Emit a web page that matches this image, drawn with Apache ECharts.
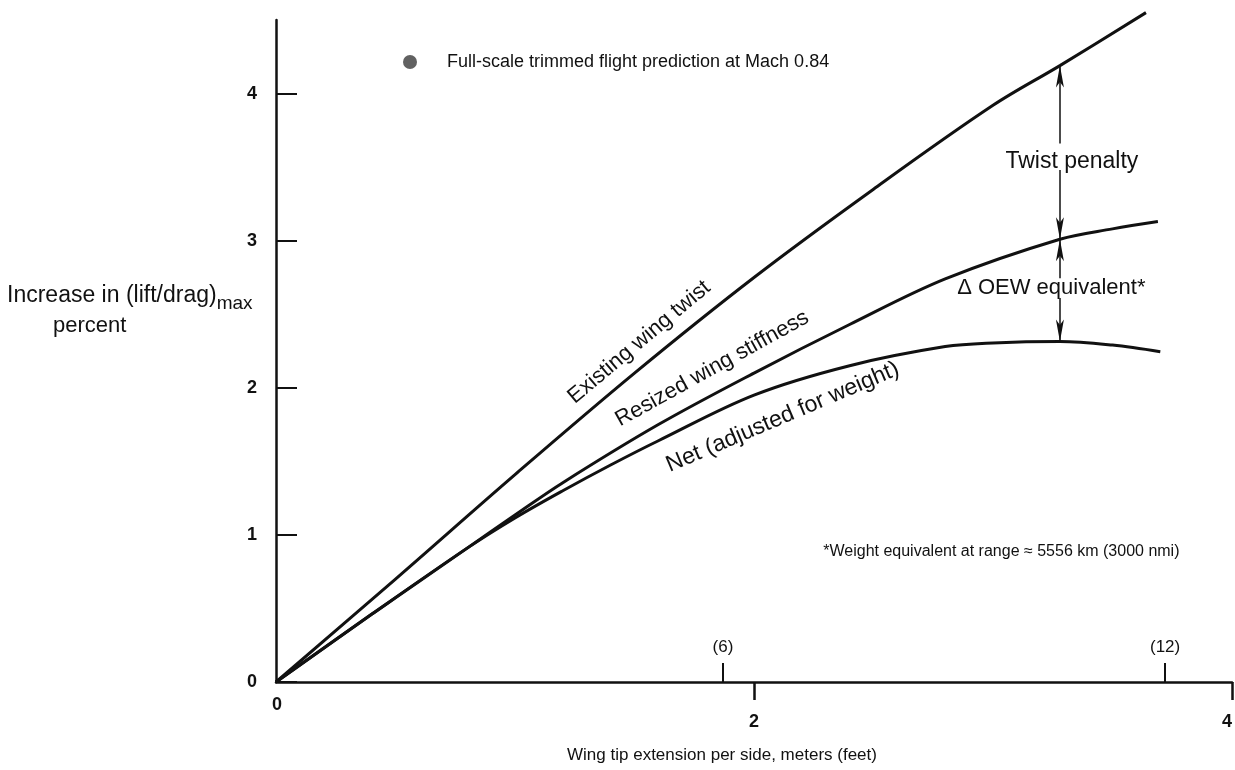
<!DOCTYPE html>
<html>
<head>
<meta charset="utf-8">
<script src="https://cdn.jsdelivr.net/npm/echarts@6/dist/echarts.min.js"></script>
<style>
  html, body { margin: 0; padding: 0; background: #fff; }
  #chart { width: 1235px; height: 770px; }
</style>
</head>
<body>
<div id="chart"></div>
<script>
// Wing tip extension per side (m) and increase in (L/D)max (%) for each configuration
const twistX   = [0, 0.5, 1.0, 1.5, 2.0, 2.5, 3.0, 3.28, 3.64];
const twistY   = [0, 0.70, 1.41, 2.10, 2.75, 3.35, 3.92, 4.19, 4.55];

const resizedX = [0, 0.4, 0.8, 1.0, 1.2, 1.6, 2.0, 2.4, 2.8, 3.28, 3.5, 3.69];
const resizedY = [0, 0.46, 0.91, 1.135, 1.355, 1.75, 2.10, 2.43, 2.74, 3.01, 3.08, 3.13];

const netX     = [0, 0.4, 0.8, 1.0, 1.2, 1.4, 1.6, 2.0, 2.4, 2.8, 3.0, 3.28, 3.5, 3.7];
const netY     = [0, 0.46, 0.91, 1.115, 1.30, 1.475, 1.64, 1.95, 2.15, 2.28, 2.305, 2.315, 2.29, 2.245];

// Axis ticks
const yTicks = [0, 1, 2, 3, 4];
const meterTicks = [2, 4];
const feetTickPos = [1.87, 3.72];          // metres along the axis
const feetTickLabels = ['(6)', '(12)'];

// Where the penalty arrows are drawn (m), and the breaks left for their captions
const arrowX = 3.28;
const twistGap = [3.66, 3.48];
const oewGap = [2.745, 2.61];

const seriesNames = ['Existing wing twist', 'Resized wing stiffness', 'Net (adjusted for weight)'];
const legendName = 'Full-scale trimmed flight prediction at Mach 0.84';

const FONT = '"Liberation Sans", Arial, Helvetica, sans-serif';
const INK = '#111';

const pairs = (xs, ys) => xs.map((x, i) => [x, ys[i]]);
const valueAt = (xs, ys, x) => ys[xs.indexOf(x)];

const arrowTop = valueAt(twistX, twistY, arrowX);
const arrowMid = valueAt(resizedX, resizedY, arrowX);
const arrowLow = valueAt(netX, netY, arrowX);

const chart = echarts.init(document.getElementById('chart'), null, { renderer: 'canvas' });

// an arrow from a curve to the edge of a caption gap, head on the curve end
const arrowSeg = (fromCurve, toGap) => [
  { coord: [arrowX, fromCurve], symbol: 'arrow' },
  { coord: [arrowX, toGap], symbol: 'none' }
];

const arrowLines = (segs) => ({
  silent: true,
  animation: false,
  symbolSize: [6, 22],
  label: { show: false },
  lineStyle: { type: 'solid', color: INK, width: 1.5 },
  emphasis: { disabled: true },
  data: segs
});

const curve = (name, xs, ys, extra) => Object.assign({
  name: name,
  type: 'line',
  data: pairs(xs, ys),
  smooth: 0.35,
  showSymbol: false,
  symbol: 'none',
  clip: false,
  lineStyle: { color: INK, width: 3 },
  itemStyle: { color: INK },
  emphasis: { disabled: true },
  z: 3
}, extra || {});

chart.setOption({
  animation: false,
  backgroundColor: '#fff',
  textStyle: { fontFamily: FONT, color: INK },
  grid: { left: 276, right: -1, top: 20, bottom: 88, containLabel: false },
  legend: {
    data: [legendName],
    left: 398,
    top: 48,
    icon: 'circle',
    itemWidth: 64,
    itemHeight: 14,
    selectedMode: false,
    textStyle: { fontFamily: FONT, fontSize: 18, color: INK }
  },
  xAxis: [
    {
      type: 'value',
      min: 0, max: 4, interval: 2,
      position: 'bottom',
      axisLine: { show: true, lineStyle: { color: INK, width: 2.5 } },
      axisTick: { show: true, length: 18, customValues: meterTicks, lineStyle: { color: INK, width: 2.5 } },
      axisLabel: {
        customValues: meterTicks, margin: 31, fontSize: 18, color: INK, fontFamily: FONT,
        fontWeight: 'bold', alignMaxLabel: 'right'
      },
      splitLine: { show: false }
    },
    {
      type: 'value',
      min: 0, max: 4,
      position: 'bottom',
      axisLine: { show: false },
      axisTick: { show: true, inside: true, length: 19, customValues: feetTickPos, lineStyle: { color: INK, width: 2 } },
      axisLabel: {
        inside: true, customValues: feetTickPos, margin: 26, fontSize: 17, color: INK, fontFamily: FONT,
        formatter: v => {
          let best = 0;
          feetTickPos.forEach((p, i) => { if (Math.abs(p - v) < Math.abs(feetTickPos[best] - v)) best = i; });
          return feetTickLabels[best];
        }
      },
      splitLine: { show: false }
    }
  ],
  yAxis: {
    type: 'value',
    min: 0, max: 4.5,
    axisLine: { show: true, lineStyle: { color: INK, width: 2.5 } },
    axisTick: { show: true, inside: true, length: 21, customValues: yTicks, lineStyle: { color: INK, width: 2 } },
    axisLabel: { customValues: yTicks, margin: 19, fontSize: 18, color: INK, fontFamily: FONT, fontWeight: 'bold' },
    splitLine: { show: false }
  },
  series: [
    curve(seriesNames[0], twistX, twistY, {
      markLine: arrowLines([arrowSeg(arrowTop, twistGap[0]), arrowSeg(arrowMid, twistGap[1])])
    }),
    curve(seriesNames[1], resizedX, resizedY, {
      markLine: arrowLines([arrowSeg(arrowMid, oewGap[0]), arrowSeg(arrowLow, oewGap[1])])
    }),
    curve(seriesNames[2], netX, netY),
    {
      name: legendName,
      type: 'scatter',
      data: [],
      itemStyle: { color: '#3a3a3a' }
    }
  ]
});

// Text annotations placed in data space
const px = (x, y) => chart.convertToPixel({ xAxisIndex: 0, yAxisIndex: 0 }, [x, y]);

const curveLabels = [
  { text: seriesNames[0], at: [1.52, 2.31], angle: 40, size: 22 },
  { text: seriesNames[1], at: [1.825, 2.13], angle: 29, size: 22 },
  { text: seriesNames[2], at: [2.12, 1.80], angle: 23, size: 23 }
];

const notes = [
  { text: 'Twist penalty', at: [3.33, 3.54], size: 23 },
  { text: '\u0394 OEW equivalent*', at: [3.244, 2.677], size: 22 },
  { text: '*Weight equivalent at range \u2248 5556 km (3000 nmi)', at: [3.035, 0.888], size: 16 }
];

const textEl = (text, p, angle, size) => ({
  type: 'text',
  x: p[0], y: p[1],
  rotation: (angle || 0) * Math.PI / 180,
  z: 10,
  style: {
    text: text,
    fontFamily: FONT,
    fontSize: size,
    fill: INK,
    align: 'center',
    verticalAlign: 'middle'
  }
});

const origin = px(0, 0);
const graphics = [];
curveLabels.forEach(l => graphics.push(textEl(l.text, px(l.at[0], l.at[1]), l.angle, l.size)));
notes.forEach(n => graphics.push(textEl(n.text, px(n.at[0], n.at[1]), 0, n.size)));

// zero label of the metre scale, sitting just below the origin
graphics.push({
  type: 'text', x: origin[0] + 1, y: origin[1] + 23, z: 10,
  style: { text: '0', fontFamily: FONT, fontSize: 18, fontWeight: 'bold', fill: INK, align: 'center', verticalAlign: 'middle' }
});

// axis titles
graphics.push({
  type: 'text', x: 7, y: 296, z: 10,
  style: {
    text: '{a|Increase in (lift/drag)}{b|max}',
    align: 'left', verticalAlign: 'middle',
    rich: {
      a: { fontFamily: FONT, fontSize: 23, lineHeight: 34, fill: INK, color: INK, verticalAlign: 'middle' },
      b: { fontFamily: FONT, fontSize: 19, lineHeight: 19, fill: INK, color: INK, verticalAlign: 'bottom' }
    }
  }
});
graphics.push({
  type: 'text', x: 53, y: 326, z: 10,
  style: { text: 'percent', fontFamily: FONT, fontSize: 22, fill: INK, align: 'left', verticalAlign: 'middle' }
});
graphics.push({
  type: 'text', x: 722, y: 755, z: 10,
  style: { text: 'Wing tip extension per side, meters (feet)', fontFamily: FONT, fontSize: 17, fill: INK, align: 'center', verticalAlign: 'middle' }
});

chart.setOption({ graphic: graphics });
</script>
</body>
</html>
